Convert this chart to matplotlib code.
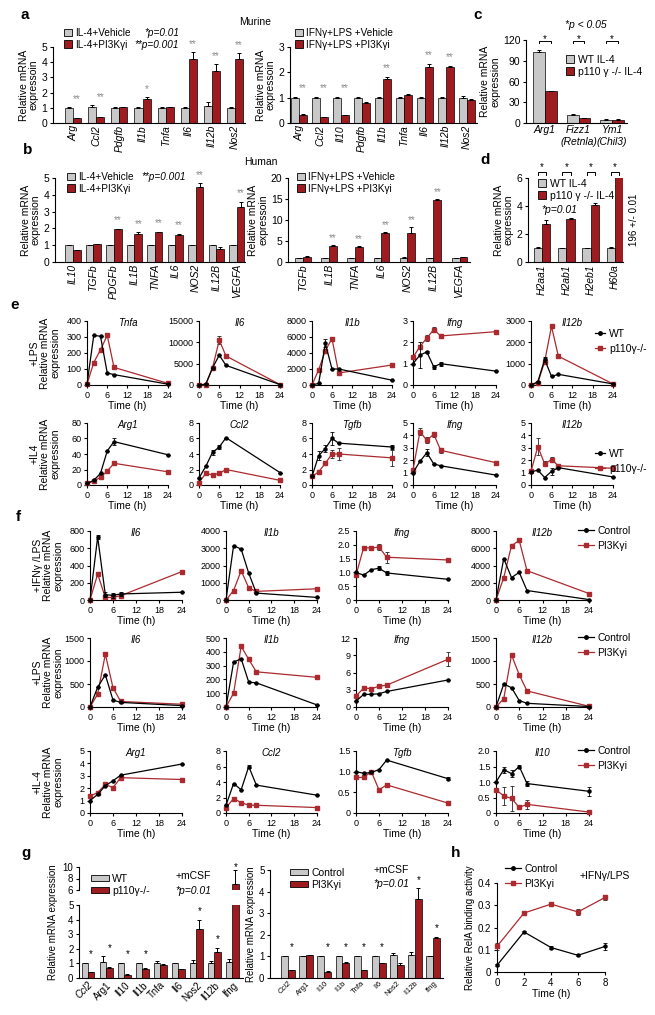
import numpy as np
import matplotlib
matplotlib.use('Agg')
import matplotlib.pyplot as plt
from matplotlib.patches import Patch
from matplotlib.lines import Line2D

plt.rcParams['font.family'] = ['Liberation Sans', 'DejaVu Sans']
plt.rcParams['axes.linewidth'] = 0.8

W, H = 655, 1015
GREY = '#c8c8c8'
RED = '#9e1b20'
LRED = '#ab2a2f'
STARG = '#8a8a8a'

# ---------------- data ----------------
# a, murine
a_il4_genes = ['Arg', 'Ccl2', 'Pdgfb', 'Il1b', 'Tnfa', 'Il6', 'Il12b', 'Nos2']
a_il4_veh = [1.0, 1.05, 1.0, 1.0, 1.0, 1.0, 1.1, 1.0]
a_il4_veh_err = [0.05, 0.15, 0.02, 0.03, 0.02, 0.02, 0.3, 0.03]
a_il4_pi = [0.3, 0.4, 1.05, 1.55, 1.05, 4.2, 3.4, 4.2]
a_il4_pi_err = [0.02, 0.02, 0.03, 0.15, 0.02, 0.5, 0.5, 0.4]
a_il4_stars = ['**', '**', '', '*', '', '**', '**', '**']

a_lps_genes = ['Arg', 'Ccl2', 'Il10', 'Pdgfb', 'Il1b', 'Tnfa', 'Il6', 'Il12b', 'Nos2']
a_lps_veh = [1.0, 1.0, 1.0, 1.0, 1.0, 1.0, 1.0, 1.0, 1.0]
a_lps_veh_err = [0.02, 0.02, 0.03, 0.02, 0.03, 0.02, 0.02, 0.02, 0.05]
a_lps_pi = [0.32, 0.23, 0.3, 0.78, 1.75, 1.1, 2.2, 2.22, 0.92]
a_lps_pi_err = [0.02, 0.02, 0.02, 0.06, 0.08, 0.06, 0.12, 0.03, 0.03]
a_lps_stars = ['**', '**', '**', '', '**', '', '**', '**', '']

# b, human
b_il4_genes = ['IL10', 'TGFb', 'PDGFb', 'IL1B', 'TNFA', 'IL6', 'NOS2', 'IL12B', 'VEGFA']
b_il4_veh = [1.0, 1.0, 1.0, 1.0, 1.0, 1.0, 1.0, 1.0, 1.0]
b_il4_veh_err = [0.02, 0.02, 0.02, 0.03, 0.02, 0.02, 0.03, 0.02, 0.02]
b_il4_pi = [0.7, 1.05, 1.95, 1.65, 1.78, 1.6, 4.45, 0.75, 3.25]
b_il4_pi_err = [0.02, 0.03, 0.03, 0.12, 0.03, 0.08, 0.25, 0.12, 0.35]
b_il4_stars = ['', '', '**', '**', '**', '**', '**', '', '**']

b_lps_genes = ['TGFb', 'IL1B', 'TNFA', 'IL6', 'NOS2', 'IL12B', 'VEGFA']
b_lps_veh = [1.0, 1.0, 1.0, 1.0, 1.0, 1.0, 1.0]
b_lps_veh_err = [0.05, 0.05, 0.05, 0.05, 0.1, 0.05, 0.05]
b_lps_pi = [1.3, 3.8, 3.6, 7.0, 7.0, 14.8, 1.1]
b_lps_pi_err = [0.1, 0.15, 0.1, 0.15, 1.3, 0.2, 0.1]
b_lps_stars = ['', '**', '**', '**', '**', '**', '']

# c
c_genes = ['Arg1', 'Fizz1\n(Retnla)', 'Ym1\n(Chil3)']
c_wt = [103, 12, 5]
c_wt_err = [3, 0.5, 0.3]
c_ko = [46, 7, 5]
c_ko_err = [0.5, 0.5, 0.3]

# d
d_genes = ['H2aa1', 'H2ab1', 'H2eb1', 'H60a']
d_wt = [1.0, 1.0, 1.0, 1.0]
d_wt_err = [0.05, 0.03, 0.02, 0.05]
d_ko = [2.75, 3.05, 4.05, 196]
d_ko_err = [0.25, 0.12, 0.15, 0.0]

# e, f: time courses
t_h = [0, 2, 4, 6, 8, 24]

e_lps_genes = ['Tnfa', 'Il6', 'Il1b', 'Ifng', 'Il12b']
e_lps_yticks = [[0, 100, 200, 300, 400], [0, 5000, 10000, 15000], [0, 2000, 4000, 6000, 8000],
                [0, 1, 2, 3], [0, 1000, 2000, 3000]]
e_lps_wt = [[5, 310, 305, 75, 65, 5], [0, 200, 4000, 7000, 4600, 100], [0, 200, 5200, 2000, 2000, 600],
            [1.0, 1.4, 1.55, 0.85, 1.0, 0.65], [0, 150, 1200, 400, 500, 50]]
e_lps_wt_err = [[0, 0, 0, 0, 0, 0], [0, 0, 0, 0, 0, 0], [0, 0, 500, 0, 0, 0],
                [0, 0.6, 0.05, 0.1, 0.1, 0], [0, 0, 100, 0, 0, 0]]
e_lps_ko = [[5, 140, 220, 310, 110, 10], [0, 100, 4000, 10500, 6800, 100], [0, 1900, 4300, 5800, 1500, 2500],
            [1.3, 1.8, 2.2, 2.6, 2.3, 2.5], [0, 100, 1100, 2750, 1350, 50]]
e_lps_ko_err = [[0, 0, 0, 0, 0, 0], [0, 0, 0, 900, 0, 0], [0, 0, 0, 0, 0, 0],
                [0, 0, 0.15, 0.1, 0.1, 0], [0, 0, 0, 0, 0, 0]]

e_il4_genes = ['Arg1', 'Ccl2', 'Tgfb', 'Ifng', 'Il12b']
e_il4_yticks = [[0, 20, 40, 60, 80], [0, 2, 4, 6, 8], [0, 2, 4, 6, 8], [0, 1, 2, 3, 4, 5], [0, 1, 2, 3, 4, 5]]
e_il4_wt = [[2, 6, 15, 44, 56, 39], [0.9, 2.4, 4.2, 4.9, 6.1, 1.6], [1.1, 3.8, 4.7, 6.0, 5.4, 4.9],
            [1.0, 1.9, 2.6, 1.7, 1.55, 0.8], [1.05, 1.2, 0.6, 1.1, 1.4, 0.65]]
e_il4_wt_err = [[0, 0, 0, 0, 4, 0], [0, 0, 0.3, 0.2, 0, 0], [0, 0.6, 0.4, 0.8, 0, 0.2],
                [0, 0, 0.3, 0, 0, 0], [0, 0, 0, 0.3, 0, 0]]
e_il4_ko = [[2, 5, 10, 18, 28, 17], [0.3, 1.5, 1.3, 1.5, 2.0, 0.6], [1.1, 1.7, 2.8, 4.0, 4.0, 3.5],
            [1.2, 4.3, 3.6, 4.1, 2.8, 1.8], [1.1, 3.1, 1.7, 2.05, 1.55, 1.35]]
e_il4_ko_err = [[0, 0, 0, 0, 0, 0], [0, 0, 0, 0, 0, 0], [0, 0, 0.2, 0.5, 0.8, 1.0],
                [0, 0.3, 0.25, 0.2, 0.2, 0], [0, 0.7, 0.2, 0.2, 0, 0.25]]

f_ifn_genes = ['Il6', 'Il1b', 'Ifng', 'Il12b']
f_ifn_yticks = [[0, 200, 400, 600, 800], [0, 1000, 2000, 3000, 4000], [0, 0.5, 1.0, 1.5, 2.0, 2.5],
                [0, 2000, 4000, 6000, 8000]]
f_ifn_ctrl = [[0, 730, 60, 55, 70, 90], [0, 3150, 2950, 1550, 400, 150], [1.0, 0.9, 1.1, 1.15, 0.98, 0.75],
              [0, 4800, 2600, 3200, 1100, 50]]
f_ifn_ctrl_err = [[0, 25, 30, 30, 20, 0], [0, 0, 0, 0, 0, 0], [0, 0, 0, 0.08, 0.07, 0], [0, 0, 0, 0, 0, 0]]
f_ifn_pi = [[0, 300, 30, 30, 50, 330], [0, 550, 1700, 700, 500, 650], [0.9, 1.9, 1.88, 1.92, 1.55, 1.45],
            [0, 2600, 6300, 6900, 3400, 750]]
f_ifn_pi_err = [[0, 0, 0, 0, 0, 0], [0, 0, 100, 0, 0, 0], [0.08, 0.05, 0.08, 0.1, 0.2, 0.05], [0, 0, 0, 0, 0, 0]]

f_lps_genes = ['Il6', 'Il1b', 'Ifng', 'Il12b']
f_lps_yticks = [[0, 500, 1000, 1500], [0, 100, 200, 300, 400, 500], [0, 3, 6, 9, 12], [0, 500, 1000, 1500]]
f_lps_ctrl = [[0, 430, 700, 150, 100, 30], [0, 325, 350, 180, 175, 15], [1.0, 2.2, 2.2, 2.3, 2.7, 4.7],
              [0, 500, 420, 140, 80, 10]]
f_lps_ctrl_err = [[0, 0, 0, 0, 0, 0], [0, 0, 0, 0, 0, 0], [0, 0, 0, 0, 0, 0], [0, 0, 0, 0, 0, 0]]
f_lps_pi = [[0, 280, 1150, 420, 120, 60], [0, 100, 440, 345, 255, 215], [1.9, 3.3, 3.2, 3.6, 3.8, 8.3],
            [0, 180, 1130, 700, 350, 15]]
f_lps_pi_err = [[0, 0, 40, 0, 0, 0], [0, 0, 0, 0, 0, 0], [0, 0.4, 0, 0.2, 0, 1.2], [0, 0, 0, 0, 0, 0]]

f_il4_genes = ['Arg1', 'Ccl2', 'Tgfb', 'Il10']
f_il4_yticks = [[0, 1, 2, 3, 4, 5], [0, 2, 4, 6, 8], [0, 0.5, 1.0, 1.5], [0, 0.5, 1.0, 1.5, 2.0]]
f_il4_ctrl = [[1.0, 1.5, 2.2, 2.6, 3.05, 3.95], [1.0, 3.8, 3.0, 6.0, 3.6, 2.3], [1.0, 0.96, 0.98, 1.05, 1.28, 0.83],
              [1.0, 1.4, 1.27, 1.5, 0.95, 0.7]]
f_il4_ctrl_err = [[0, 0, 0, 0, 0, 0], [0, 0, 0, 0.2, 0, 0], [0, 0, 0, 0, 0, 0.03],
                  [0, 0.1, 0.12, 0.05, 0.07, 0.15]]
f_il4_pi = [[1.35, 1.65, 2.3, 2.05, 2.85, 2.7], [0.7, 1.85, 1.35, 1.0, 1.0, 0.7], [0.86, 0.86, 1.0, 0.56, 0.68, 0.24],
            [0.75, 0.55, 0.47, 0.18, 0.28, 0.03]]
f_il4_pi_err = [[0, 0, 0, 0, 0, 0], [0, 0, 0, 0, 0, 0], [0, 0, 0, 0, 0, 0], [0, 0.28, 0.4, 0.05, 0.15, 0]]

# g
g_genes = ['Ccl2', 'Arg1', 'Il10', 'Il1b', 'Tnfa', 'Il6', 'Nos2', 'Il12b', 'Ifng']
g_ko_wt = [1.0, 1.1, 1.0, 1.0, 1.05, 1.0, 1.05, 1.05, 1.1]
g_ko_wt_err = [0.02, 0.38, 0.03, 0.04, 0.1, 0.02, 0.15, 0.12, 0.2]
g_ko_ko = [0.38, 0.68, 0.22, 0.62, 0.88, 0.62, 3.35, 1.75, 7.1]
g_ko_ko_err = [0.03, 0.05, 0.03, 0.04, 0.05, 0.03, 0.6, 0.3, 2.3]
g_ko_stars = ['*', '*', '*', '*', '', '', '*', '*', '*']

g_pi_ctrl = [1.0, 1.0, 1.0, 1.0, 1.0, 1.0, 1.05, 1.05, 1.0]
g_pi_ctrl_err = [0.03, 0.02, 0.02, 0.03, 0.02, 0.02, 0.12, 0.15, 0.02]
g_pi_pi = [0.35, 1.05, 0.3, 0.7, 0.35, 0.68, 0.62, 3.65, 1.85]
g_pi_pi_err = [0.02, 0.03, 0.02, 0.02, 0.02, 0.02, 0.08, 0.5, 0.07]
g_pi_stars = ['*', '', '*', '*', '*', '*', '', '*', '*']

# h
h_t = [0, 2, 4, 6, 8]
h_ctrl = [0.03, 0.18, 0.11, 0.075, 0.115]
h_ctrl_err = [0.005, 0.005, 0.005, 0.005, 0.015]
h_pi = [0.115, 0.265, 0.305, 0.27, 0.335]
h_pi_err = [0.015, 0.005, 0.005, 0.015, 0.012]

# ---------------- helpers ----------------
fig = plt.figure(figsize=(W / 100, H / 100), dpi=100)


def px_ax(x0, x1, y0, y1):
    return fig.add_axes([x0 / W, 1 - y1 / H, (x1 - x0) / W, (y1 - y0) / H])


def ftext(x, y, s, **kw):
    kw.setdefault('ha', 'center')
    kw.setdefault('va', 'center')
    fig.text(x / W, 1 - y / H, s, **kw)


def tidy(ax, fs=6.5):
    for s in ('top', 'right'):
        ax.spines[s].set_visible(False)
    ax.tick_params(length=2.5, width=0.8, labelsize=fs, pad=1.5)


def set_yt(ax, ticks):
    dec = any(float(v) != int(v) for v in ticks)
    ax.set_yticks(ticks)
    ax.set_yticklabels(['0' if v == 0 else ('%.1f' % v if dec else '%d' % v) for v in ticks])
    ax.set_ylim(ticks[0], ticks[-1])


def bar_panel(ax, cats, v1, e1, v2, e2, w, xlim, yticks, stars=None, off=0.0,
              scol='k', rot=90, fs=7.5, italic=True):
    x = np.arange(len(cats))
    z = np.zeros(len(cats))
    ekw = dict(elinewidth=0.7, capthick=0.7, ecolor='k')
    ax.bar(x - w / 2, v1, w, color=GREY, edgecolor='k', linewidth=0.5,
           yerr=[z, e1], capsize=1.6, error_kw=ekw)
    ax.bar(x + w / 2, v2, w, color=RED, edgecolor='k', linewidth=0.5,
           yerr=[z, e2], capsize=1.6, error_kw=ekw)
    ax.set_xlim(*xlim)
    set_yt(ax, yticks)
    ax.set_xticks(x)
    st = 'italic' if italic else 'normal'
    if rot == 90:
        ax.set_xticklabels(cats, rotation=90, fontsize=fs, style=st)
    elif rot == 45:
        ax.set_xticklabels(cats, rotation=45, ha='right', rotation_mode='anchor', fontsize=fs)
    else:
        ax.set_xticklabels(cats, fontsize=fs, style=st)
    tidy(ax, fs)
    ax.tick_params(axis='x', length=0)
    if stars:
        lo, hi = ax.get_ylim()
        for i, s in enumerate(stars):
            if not s:
                continue
            top = max(v1[i] + e1[i], v2[i] + e2[i]) + off
            if lo <= top <= hi * 1.1:
                ax.text(x[i] + w / 2, top, s, ha='center', va='center', color=scol, fontsize=7)
    return x


def line_panel(ax, t, y1, e1, y2, e2, yticks, title, c2=LRED):
    ax.errorbar(t, y2, yerr=e2, color=c2, marker='s', ms=2.2, lw=0.9, capsize=1.5,
                elinewidth=0.6, capthick=0.6, ecolor='#222222', clip_on=False, zorder=3)
    ax.errorbar(t, y1, yerr=e1, color='k', marker='o', ms=2.2, lw=0.9, capsize=1.5,
                elinewidth=0.6, capthick=0.6, clip_on=False, zorder=4)
    set_yt(ax, yticks)
    tidy(ax, 6.5)
    ax.set_xlim(0, t[-1])
    ax.text(0.5, 0.97, title, transform=ax.transAxes, ha='center', va='center',
            style='italic', fontsize=7)


def bar_leg(x, y, labels, fs=7.5, hl=0.8, hh=0.8):
    h = [Patch(facecolor=GREY, edgecolor='k', linewidth=0.6),
         Patch(facecolor=RED, edgecolor='k', linewidth=0.6)]
    fig.legend(h, labels, loc='upper left', bbox_to_anchor=(x / W, 1 - y / H), frameon=False,
               fontsize=fs, handlelength=hl, handleheight=hh, handletextpad=0.35,
               labelspacing=0.15, borderpad=0, borderaxespad=0)


def line_leg(x, y, labels, fs=7.5, hl=1.2):
    h = [Line2D([], [], color='k', marker='o', ms=2.5, lw=0.9),
         Line2D([], [], color=LRED, marker='s', ms=2.5, lw=0.9)]
    fig.legend(h, labels, loc='upper left', bbox_to_anchor=(x / W, 1 - y / H), frameon=False,
               fontsize=fs, handlelength=hl, handletextpad=0.35, labelspacing=0.45,
               borderpad=0, borderaxespad=0)


# ---------------- panel a ----------------
ftext(25, 15, 'a', fontsize=11, fontweight='bold')
ftext(255, 22, 'Murine', fontsize=7.5)
ax = px_ax(53, 245, 47, 123)
bar_panel(ax, a_il4_genes, a_il4_veh, a_il4_veh_err, a_il4_pi, a_il4_pi_err, 0.35, (-0.87, 7.43),
          [0, 1, 2, 3, 4, 5], a_il4_stars, 0.5, STARG)
ax.set_ylabel('Relative mRNA\nexpressoin', fontsize=7.5, labelpad=2, linespacing=1.0)
bar_leg(64, 28, ['IL-4+Vehicle', 'IL-4+PI3K\u03b3i'], fs=7.2)
ftext(179, 33, '*p=0.01', ha='right', style='italic', fontsize=7.2)
ftext(179, 45, '**p=0.001', ha='right', style='italic', fontsize=7.2)

ax = px_ax(290, 477, 47, 123)
bar_panel(ax, a_lps_genes, a_lps_veh, a_lps_veh_err, a_lps_pi, a_lps_pi_err, 0.37, (-0.43, 8.48),
          [0, 1, 2, 3], a_lps_stars, 0.35, STARG)
ax.set_ylabel('Relative mRNA\nexpressoin', fontsize=7.5, labelpad=2, linespacing=1.0)
bar_leg(295, 28, ['IFN\u03b3+LPS +Vehicle', 'IFN\u03b3+LPS +PI3K\u03b3i'], fs=7.2)

# ---------------- panel c ----------------
ftext(478, 15, 'c', fontsize=11, fontweight='bold')
ftext(586, 25, '*p < 0.05', style='italic', fontsize=7.5)
ax = px_ax(526, 627, 40, 123)
xc = bar_panel(ax, c_genes, c_wt, c_wt_err, c_ko, c_ko_err, 0.35, (-0.56, 2.44),
               [0, 30, 60, 90, 120], rot=0, fs=7.5)
ax.set_ylabel('Relative mRNA\nexpression', fontsize=7.5, labelpad=2, linespacing=1.0)
for xi in xc:
    ax.plot([xi - 0.175, xi - 0.175, xi + 0.175, xi + 0.175], [115, 118, 118, 115], color='k',
            lw=0.7, clip_on=False)
    ax.text(xi, 122, '*', ha='center', va='center', fontsize=7)
bar_leg(566, 55, ['WT IL-4', 'p110 \u03b3 -/- IL-4'])

# ---------------- panel b ----------------
ftext(28, 150, 'b', fontsize=11, fontweight='bold')
ftext(261, 162, 'Human', fontsize=7.5)
ax = px_ax(55, 245, 178, 262)
bar_panel(ax, b_il4_genes, b_il4_veh, b_il4_veh_err, b_il4_pi, b_il4_pi_err, 0.37, (-0.88, 8.4),
          [0, 1, 2, 3, 4, 5], b_il4_stars, 0.5, STARG)
ax.set_ylabel('Relative mRNA\nexpression', fontsize=7.5, labelpad=2, linespacing=1.0)
bar_leg(67, 172, ['IL-4+Vehicle', 'IL-4+PI3K\u03b3i'], fs=7.2)
ftext(186, 177, '**p=0.001', ha='right', style='italic', fontsize=7.2)

ax = px_ax(288, 470, 178, 262)
bar_panel(ax, b_lps_genes, b_lps_veh, b_lps_veh_err, b_lps_pi, b_lps_pi_err, 0.3, (-0.58, 6.4),
          [0, 5, 10, 15, 20], b_lps_stars, 1.7, STARG)
ax.set_ylabel('Relative mRNA\nexpressoin', fontsize=7.5, labelpad=2, linespacing=1.0)
bar_leg(297, 172, ['IFN\u03b3+LPS +Vehicle', 'IFN\u03b3+LPS +PI3K\u03b3i'], fs=7.2)

# ---------------- panel d ----------------
ftext(485, 160, 'd', fontsize=11, fontweight='bold')
ax = px_ax(528, 623, 178, 262)
xd = bar_panel(ax, d_genes, d_wt, d_wt_err, d_ko, d_ko_err, 0.34, (-0.58, 3.33),
               [0, 2, 4, 6], fs=7.5)
ax.set_ylabel('Relative mRNA\nexpression', fontsize=7.5, labelpad=2, linespacing=1.0)
for xi in xd:
    ax.plot([xi - 0.17, xi - 0.17, xi + 0.17, xi + 0.17], [6.25, 6.45, 6.45, 6.25], color='k',
            lw=0.7, clip_on=False)
    ax.text(xi, 6.75, '*', ha='center', va='center', fontsize=7)
bar_leg(538, 179, ['WT IL-4', 'p110 \u03b3 -/- IL-4'])
ftext(541, 210, '*p=0.01', ha='left', style='italic', fontsize=7.5)
ftext(634, 220, '%d +/- 0.01' % d_ko[3], rotation=90, fontsize=7)

# ---------------- panel e ----------------
ftext(15, 305, 'e', fontsize=11, fontweight='bold')
e_cols = [(87, 168), (199, 280), (312, 392), (413, 496), (531, 613)]
for row, (y0, y1, genes, yt, wt, wte, ko, koe, lab) in enumerate([
        (321, 385, e_lps_genes, e_lps_yticks, e_lps_wt, e_lps_wt_err, e_lps_ko, e_lps_ko_err, '+LPS'),
        (423, 485, e_il4_genes, e_il4_yticks, e_il4_wt, e_il4_wt_err, e_il4_ko, e_il4_ko_err, '+IL4')]):
    for i, (x0, x1) in enumerate(e_cols):
        ax = px_ax(x0, x1, y0, y1)
        line_panel(ax, t_h, wt[i], wte[i], ko[i], koe[i], yt[i], genes[i])
        ax.set_xticks([0, 6, 12, 18, 24])
        ax.set_xlabel('Time (h)', fontsize=7.5, labelpad=1)
    ftext(45, (y0 + y1) / 2, lab + '\nRelative mRNA\nexpression', rotation=90, fontsize=7.5,
          linespacing=1.05)
    line_leg(595, y0 + 8 if row == 0 else y0 + 26, ['WT', 'p110\u03b3-/-'], fs=7.5, hl=1.0)

# ---------------- panel f ----------------
ftext(18, 517, 'f', fontsize=11, fontweight='bold')
f_cols = [(90, 182), (226, 317), (356, 448), (496, 589)]
for (y0, y1, genes, yt, c, ce, p, pe, lab) in [
        (531, 600, f_ifn_genes, f_ifn_yticks, f_ifn_ctrl, f_ifn_ctrl_err, f_ifn_pi, f_ifn_pi_err, '+IFN\u03b3 /LPS'),
        (638, 707, f_lps_genes, f_lps_yticks, f_lps_ctrl, f_lps_ctrl_err, f_lps_pi, f_lps_pi_err, '+LPS'),
        (751, 813, f_il4_genes, f_il4_yticks, f_il4_ctrl, f_il4_ctrl_err, f_il4_pi, f_il4_pi_err, '+IL-4')]:
    for i, (x0, x1) in enumerate(f_cols):
        ax = px_ax(x0, x1, y0, y1)
        line_panel(ax, t_h, c[i], ce[i], p[i], pe[i], yt[i], genes[i])
        ax.set_xticks([0, 6, 12, 18, 24])
        ax.set_xlabel('Time (h)', fontsize=7.5, labelpad=1)
    ftext(48, (y0 + y1) / 2, lab + '\nRelative mRNA\nexpression', rotation=90, fontsize=7.5,
          linespacing=1.05)
    line_leg(578, y0 - 5, ['Control', 'PI3K\u03b3i'], fs=7.5, hl=1.5)

# ---------------- panel g ----------------
ftext(26, 853, 'g', fontsize=11, fontweight='bold')
ax = px_ax(79, 243, 905, 978)
bar_panel(ax, g_genes, g_ko_wt, g_ko_wt_err, g_ko_ko, g_ko_ko_err, 0.36, (-0.5, 8.6),
          [0, 1, 2, 3, 4, 5], g_ko_stars, 0.6, 'k', rot=45, fs=7)
ax.get_xticklabels()[0].set_style('italic')
axu = px_ax(79, 243, 867, 890)
bar_panel(axu, g_genes, g_ko_wt, g_ko_wt_err, g_ko_ko, g_ko_ko_err, 0.36, (-0.5, 8.6),
          [6, 8, 10], g_ko_stars, 0.6, 'k', rot=45, fs=7)
axu.spines['bottom'].set_visible(False)
axu.set_xticks([])
ftext(53, 922, 'Relative mRNA expression', rotation=90, fontsize=7)
bar_leg(91, 874, ['WT', 'p110\u03b3-/-'], fs=7.5, hl=1.7, hh=0.5)
ftext(193, 876, '+mCSF', fontsize=7.5)
ftext(193, 891, '*p=0.01', style='italic', fontsize=7.5)

ax = px_ax(270, 443, 870, 978)
bar_panel(ax, g_genes, g_pi_ctrl, g_pi_ctrl_err, g_pi_pi, g_pi_pi_err, 0.38, (-1.0, 8.55),
          [0, 1, 2, 3, 4, 5], g_pi_stars, 0.4, 'k', rot=45, fs=5.5)
ax.get_xticklabels()[0].set_style('italic')
ax.tick_params(axis='y', labelsize=7)
ax.set_ylabel('Relative mRNA expression', fontsize=7, labelpad=2)
bar_leg(290, 868, ['Control', 'PI3K\u03b3i'], fs=7.5, hl=1.7, hh=0.5)
ftext(391, 870, '+mCSF', fontsize=7.5)
ftext(391, 884, '*p=0.01', style='italic', fontsize=7.5)

# ---------------- panel h ----------------
ftext(456, 853, 'h', fontsize=11, fontweight='bold')
ax = px_ax(497, 605, 883, 972)
line_panel(ax, h_t, h_ctrl, h_ctrl_err, h_pi, h_pi_err, [0, 0.1, 0.2, 0.3, 0.4], '')
ax.set_xticks([0, 2, 4, 6, 8])
ax.tick_params(labelsize=7)
ax.set_xlabel('Time (h)', fontsize=7.5, labelpad=1)
ax.set_ylabel('Relative RelA binding activity', fontsize=7, labelpad=2)
line_leg(505, 864, ['Control', 'PI3K\u03b3i'], fs=7.5, hl=1.5)
ftext(605, 876, '+IFN\u03b3/LPS', fontsize=7.5)

fig.savefig('out.png', dpi=100)
